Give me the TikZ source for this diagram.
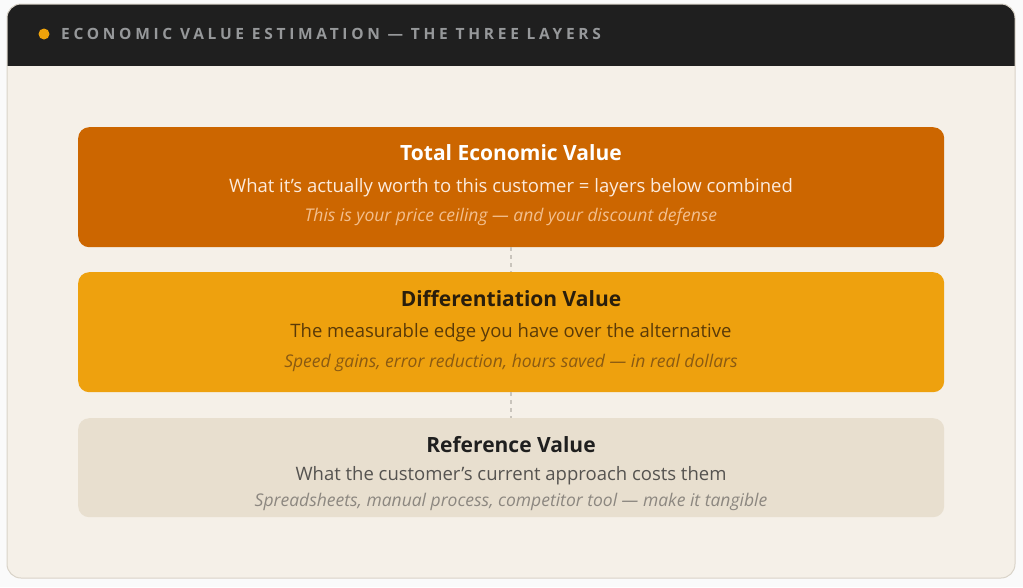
\documentclass[tikz,border=0pt]{standalone}
\usepackage{fontspec}
\setmainfont{Open Sans}
\newfontfamily\hdrfont[LetterSpace=24]{Open Sans}
\definecolor{pagebg}{HTML}{FAFAFA}
\definecolor{cardbg}{HTML}{F5F0E8}
\definecolor{cardline}{HTML}{D9D3C8}
\definecolor{hdrbg}{HTML}{1F1F1F}
\definecolor{hdrtext}{HTML}{96989A}
\definecolor{dotc}{HTML}{F0A30A}
\definecolor{boxA}{HTML}{CC6600}
\definecolor{boxB}{HTML}{EEA10E}
\definecolor{boxC}{HTML}{E8DFCF}
\definecolor{subA}{HTML}{FCEBDD}
\definecolor{itA}{HTML}{F3BF8E}
\definecolor{titB}{HTML}{2A1E0C}
\definecolor{subB}{HTML}{5A3A08}
\definecolor{itB}{HTML}{8A5A12}
\definecolor{titC}{HTML}{1F1F1F}
\definecolor{subC}{HTML}{555350}
\definecolor{itC}{HTML}{8C8780}
\definecolor{dashc}{HTML}{C9C4BC}
\tikzset{
  layer/.style={rounded corners=11pt, minimum width=866pt, anchor=north west, inner sep=0pt},
  ttl/.style={font=\fontsize{21}{24}\selectfont\bfseries, anchor=center},
  sub/.style={font=\fontsize{18.5}{20}\selectfont, anchor=center},
  itl/.style={font=\fontsize{17.5}{18}\selectfont\itshape, anchor=center},
  link/.style={dashc, line width=1.5pt, dash pattern=on 4pt off 4pt}
}
\begin{document}
\begin{tikzpicture}[x=1pt,y=-1pt]
\useasboundingbox (0,0) rectangle (1023,587);
\fill[pagebg] (0,0) rectangle (1023,587);
% card
\fill[cardbg, rounded corners=14pt] (7,4) rectangle (1015,578);
\begin{scope}
\clip[rounded corners=14pt] (7,4) rectangle (1015,578);
\fill[hdrbg] (7,4) rectangle (1015,66);
\end{scope}
\draw[cardline, line width=1pt, rounded corners=14pt] (7,4) rectangle (1015,578);
\fill[dotc] (44,34) circle (5.5);
\node[anchor=west, text=hdrtext, font=\fontsize{15.5}{16}\hdrfont\bfseries, inner sep=0pt] (hdr) at (61,34) {ECONOMIC VALUE ESTIMATION — THE THREE LAYERS};
% layers
\node[layer, fill=boxA, minimum height=120pt] (L1) at (78,127) {};
\node[layer, fill=boxB, minimum height=120pt] (L2) at (78,272) {};
\node[layer, fill=boxC, minimum height=99pt] (L3) at (78,418) {};
\draw[link] (L1.south) -- (L2.north);
\draw[link] (L2.south) -- (L3.north);
% texts
\node[ttl, text=white] (t1) at (511,153) {Total Economic Value};
\node[sub, text=subA] (s1) at (511,188) {What it's actually worth to this customer = layers below combined};
\node[itl, text=itA] (i1) at (511,217) {This is your price ceiling — and your discount defense};
\node[ttl, text=titB] (t2) at (511,299) {Differentiation Value};
\node[sub, text=subB] (s2) at (511,333) {The measurable edge you have over the alternative};
\node[itl, text=itB] (i2) at (511,363) {Speed gains, error reduction, hours saved — in real dollars};
\node[ttl, text=titC] (t3) at (511,445) {Reference Value};
\node[sub, text=subC] (s3) at (511,476) {What the customer's current approach costs them};
\node[itl, text=itC] (i3) at (511,502) {Spreadsheets, manual process, competitor tool — make it tangible};
\end{tikzpicture}
\end{document}
